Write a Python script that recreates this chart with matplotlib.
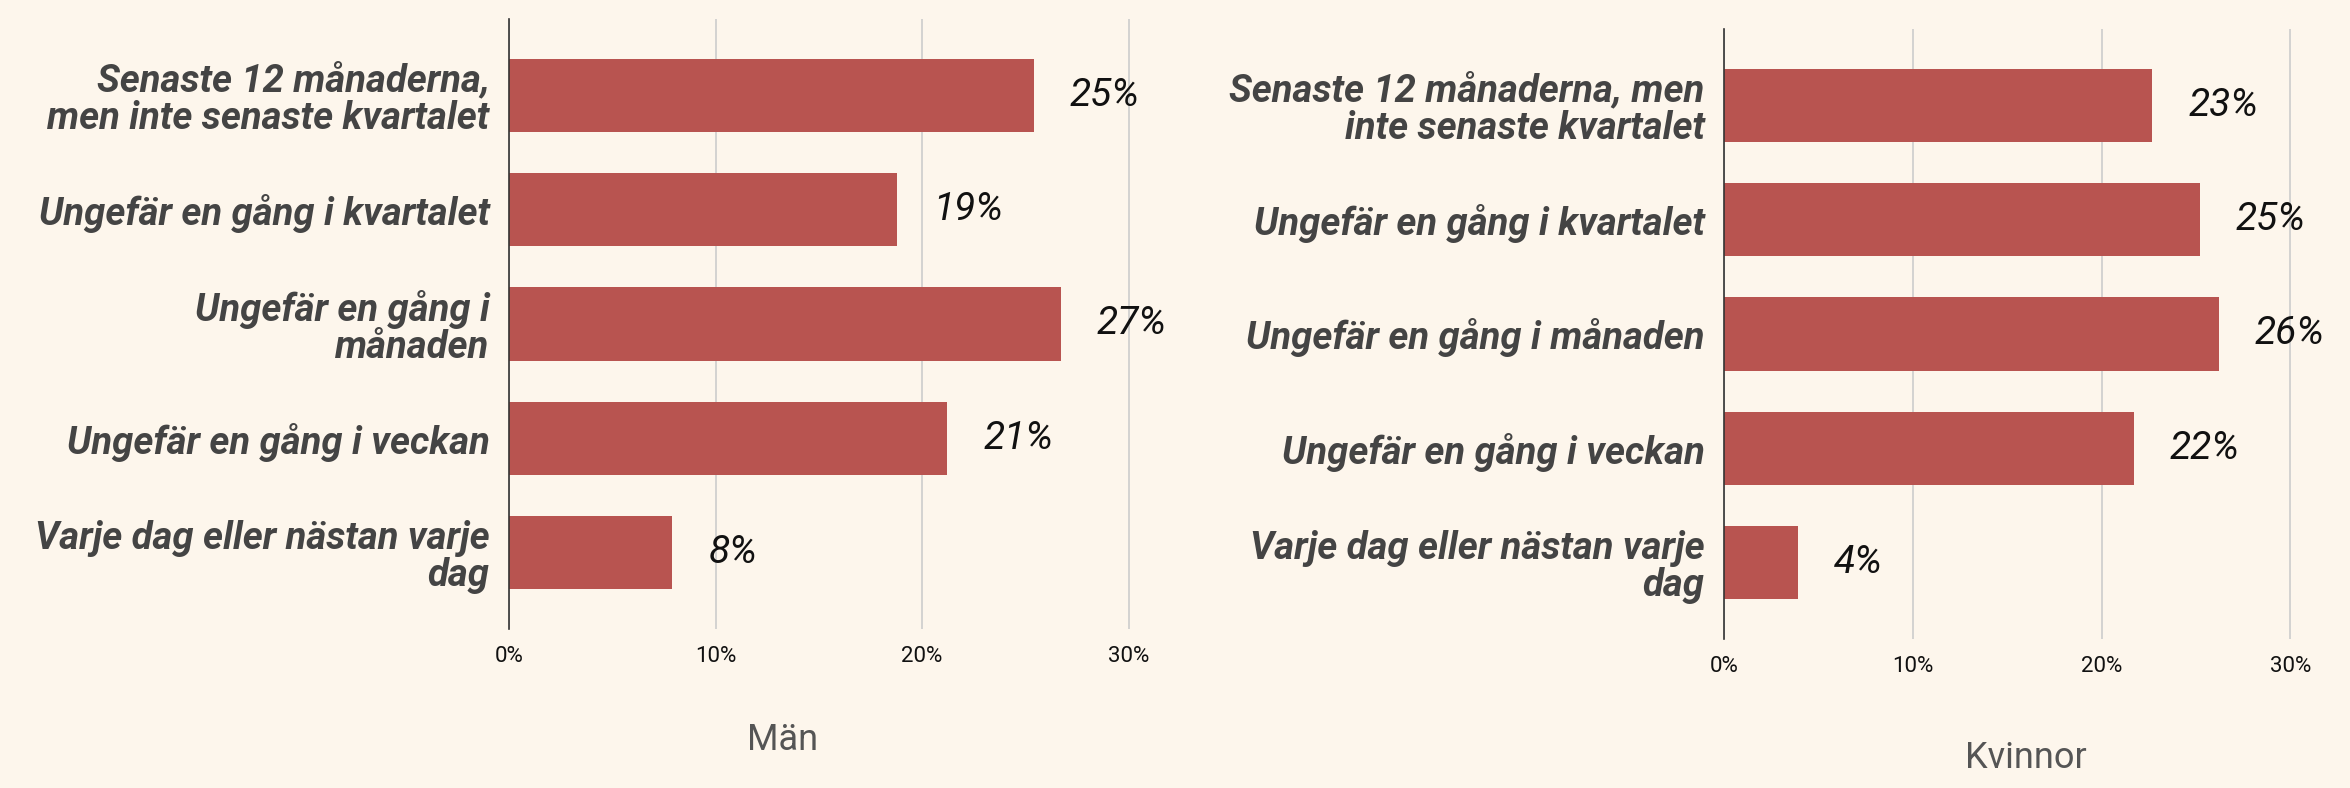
import matplotlib.pyplot as plt

# ---------------------------
# Data
# ---------------------------
kat_man = [
    "Senaste 12 månaderna,\nmen inte senaste kvartalet",
    "Ungefär en gång i kvartalet",
    "Ungefär en gång i\nmånaden",
    "Ungefär en gång i veckan",
    "Varje dag eller nästan varje\ndag",
]
kat_kvinnor = [
    "Senaste 12 månaderna, men\ninte senaste kvartalet",
    "Ungefär en gång i kvartalet",
    "Ungefär en gång i månaden",
    "Ungefär en gång i veckan",
    "Varje dag eller nästan varje\ndag",
]
varden_man = [25.4, 18.8, 26.7, 21.2, 7.9]
etiketter_man = ["25%", "19%", "27%", "21%", "8%"]
varden_kvinnor = [22.7, 25.2, 26.2, 21.7, 3.9]
etiketter_kvinnor = ["23%", "25%", "26%", "22%", "4%"]
x_ticks = [0, 10, 20, 30]
x_ticklabels = ["0%", "10%", "20%", "30%"]

BG = "#fdf6ec"
BAR = "#b85450"

plt.rcParams["font.family"] = ["Roboto", "DejaVu Sans"]

fig = plt.figure(figsize=(23.5, 7.88), dpi=100, facecolor=BG)

ax1 = fig.add_axes([509 / 2350, 1 - 629 / 788, (1168 - 509) / 2350, (629 - 19) / 788])
ax2 = fig.add_axes([1724 / 2350, 1 - 639 / 788, (2328 - 1724) / 2350, (639 - 29) / 788])


def rita(ax, kat, varden, etiketter, xmax):
    ax.set_facecolor(BG)
    pos = list(range(len(kat)))
    ax.barh(pos, varden, height=0.64, color=BAR, zorder=3)
    ax.set_xlim(0, xmax)
    ax.set_ylim(4.666, -0.666)
    ax.set_xticks(x_ticks)
    ax.set_xticklabels(x_ticklabels, fontsize=16, color="#111111")
    ax.set_yticks(pos)
    ax.set_yticklabels(kat, fontsize=27.5, fontweight="bold", style="italic",
                       color="#444444", linespacing=1.0)
    ax.tick_params(axis="both", length=0)
    ax.tick_params(axis="x", pad=12)
    ax.tick_params(axis="y", pad=14)
    ax.grid(axis="x", color="#cccccc", linewidth=1.2, zorder=0)
    for s in ["top", "right", "bottom"]:
        ax.spines[s].set_visible(False)
    ax.spines["left"].set_color("#333333")
    ax.spines["left"].set_linewidth(1.2)
    ax.spines["left"].set_zorder(4)
    for p, v, t in zip(pos, varden, etiketter):
        ax.annotate(t, (v, p), xytext=(26, 0), textcoords="offset points",
                    ha="left", va="center", fontsize=28, style="italic",
                    color="#111111", annotation_clip=False, clip_on=True)


rita(ax1, kat_man, varden_man, etiketter_man, 31.9)
rita(ax2, kat_kvinnor, varden_kvinnor, etiketter_kvinnor, 32.0)

fig.text(783 / 2350, 1 - 740 / 788, "Män", ha="center", va="center",
         fontsize=26, color="#555555")
fig.text(2026 / 2350, 1 - 758 / 788, "Kvinnor", ha="center", va="center",
         fontsize=26, color="#555555")

fig.savefig("out.png", dpi=100, facecolor=BG)
